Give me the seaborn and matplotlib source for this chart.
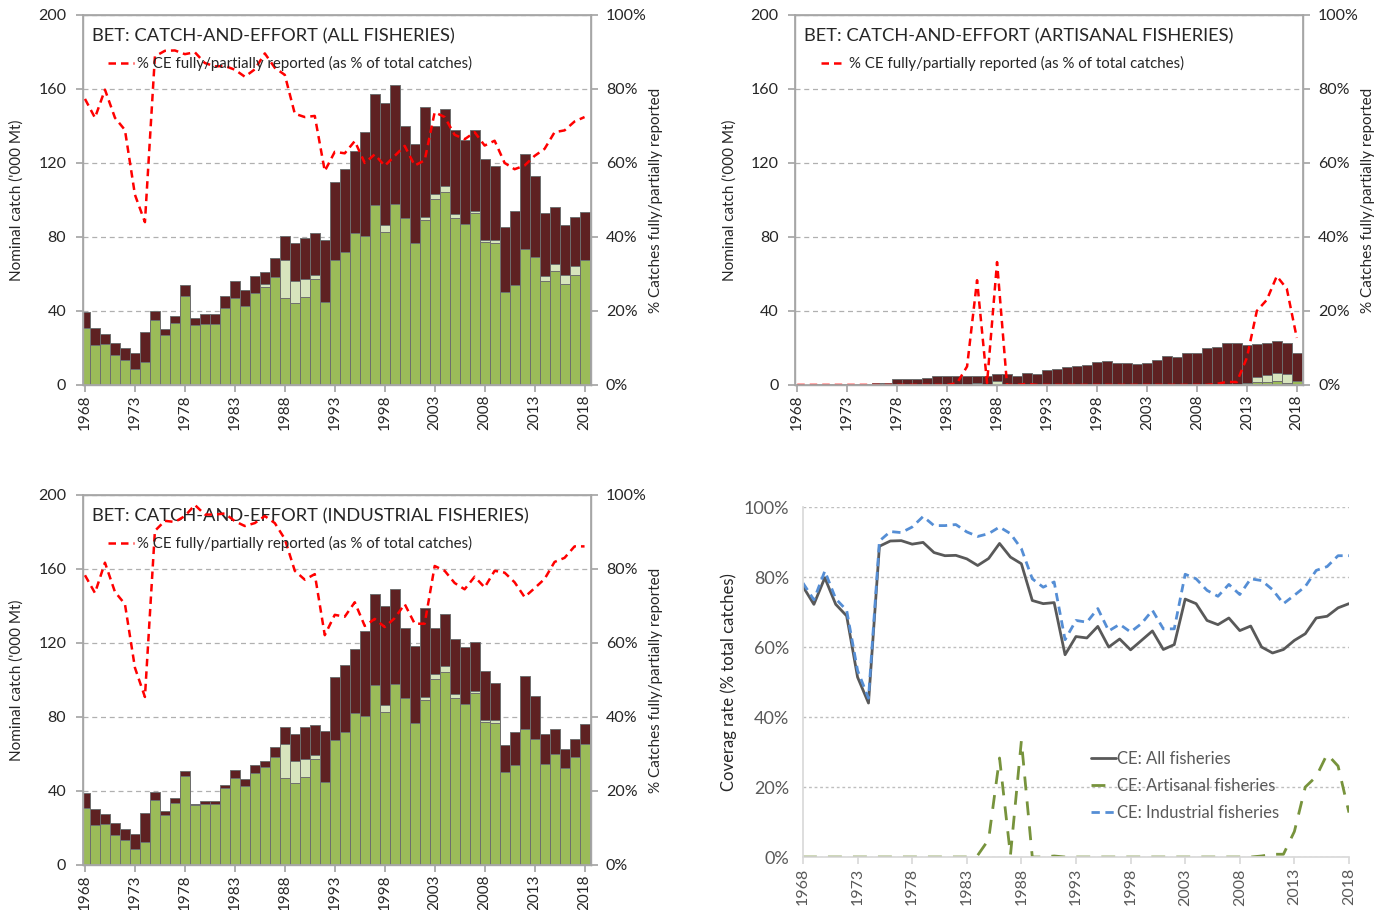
import matplotlib
matplotlib.use("Agg")
import matplotlib.pyplot as plt
from matplotlib.ticker import PercentFormatter
import numpy as np
import seaborn as sns

years = np.arange(1968, 2019)

# all fisheries, nominal catch ('000 t)
all_total = [39.3, 30.6, 27.7, 22.9, 19.8, 17.5, 28.8, 40.0, 30.1, 37.1,
             54.1, 36.0, 38.2, 38.6, 48.3, 56.2, 51.2, 58.7, 60.9, 68.6,
             80.7, 76.8, 79.3, 82.2, 78.2, 109.5, 116.8, 126.5, 136.6, 157.1,
             152.4, 162.2, 140.2, 130.4, 150.3, 140.2, 149.2, 137.7, 132.6, 138.0,
             122.2, 118.6, 85.4, 94.1, 124.7, 113.2, 92.8, 96.2, 86.5, 90.8,
             93.4]
all_full = [30.6, 21.6, 22.3, 16.2, 13.3, 8.6, 12.3, 35.3, 27.0, 33.5,
            48.3, 32.4, 33.2, 33.2, 41.4, 47.2, 42.5, 49.7, 53.2, 58.6,
            47.2, 44.3, 47.6, 57.1, 45.0, 67.7, 72.1, 82.2, 80.4, 97.3,
            82.9, 97.7, 90.3, 76.9, 89.0, 100.4, 104.5, 90.3, 87.0, 93.0,
            77.1, 76.8, 50.1, 54.1, 73.3, 69.4, 56.2, 61.8, 54.6, 59.6,
            67.4]
all_part = [0, 0, 0, 0, 0, 0, 0, 0, 0, 0,
            0, 0, 0, 0, 0, 0, 0, 0, 1.3, 0,
            20.2, 11.7, 9.5, 2.2, 0, 0, 0, 0, 0, 0,
            3.6, 0, 0, 0, 1.8, 2.7, 3.1, 2.3, 0, 0.9,
            1.5, 1.4, 0, 0, 0, 0, 2.9, 3.6, 4.7, 4.7,
            0]

# artisanal fisheries
art_total = [0.2, 0.2, 0.3, 0.4, 0.4, 0.5, 0.5, 0.6, 0.8, 0.8,
             3.4, 3.0, 3.4, 3.9, 5.0, 4.8, 5.0, 4.8, 4.6, 4.8,
             5.9, 6.1, 5.0, 6.3, 5.7, 7.9, 8.8, 9.8, 10.4, 10.7,
             12.3, 12.9, 12.0, 12.0, 11.4, 12.0, 13.4, 15.7, 15.0, 17.3,
             17.3, 20.0, 20.5, 22.5, 22.5, 21.8, 22.0, 22.7, 23.6, 22.5,
             17.3]
art_full = [0, 0, 0, 0, 0, 0, 0, 0, 0, 0,
            0, 0, 0, 0, 0, 0, 0, 0, 0, 0,
            0, 0, 0, 0, 0, 0, 0, 0, 0, 0,
            0, 0, 0, 0, 0, 0, 0, 0, 0, 0,
            0, 0, 0, 0, 0, 1.2, 1.5, 1.8, 2.0, 1.2,
            2.0]
art_part = [0, 0, 0, 0, 0, 0, 0, 0, 0, 0,
            0, 0, 0, 0, 0, 0, 0, 0, 1.3, 0,
            1.9, 0, 0, 0, 0, 0, 0, 0, 0, 0,
            0, 0, 0, 0, 0, 0, 0, 0, 0, 0,
            0, 0, 0, 0, 0, 0, 2.9, 3.6, 4.7, 4.7,
            0]

# % of catch with CE fully/partially reported
pct_all = [77.3, 72.2, 79.8, 72.2, 68.9, 51.4, 44.0, 88.8, 90.3, 90.4,
           89.4, 89.9, 87.0, 86.1, 86.2, 85.2, 83.3, 85.3, 89.6, 85.7,
           83.8, 73.3, 72.4, 72.7, 57.8, 63.0, 62.6, 65.9, 60.0, 62.3,
           59.2, 61.9, 64.6, 59.3, 60.7, 73.7, 72.4, 67.6, 66.4, 68.3,
           64.7, 66.0, 60.0, 58.3, 59.3, 61.9, 63.8, 68.3, 68.8, 71.2,
           72.4]
pct_ind = [78.3, 73.5, 81.7, 73.8, 70.5, 53.3, 45.4, 90.3, 93.0, 92.7,
           94.3, 97.3, 94.7, 94.7, 95.0, 92.9, 91.6, 92.4, 94.3, 92.4,
           88.1, 79.5, 77.1, 78.6, 62.1, 67.6, 67.1, 71.0, 64.6, 66.5,
           64.3, 66.7, 70.5, 65.2, 65.2, 80.8, 79.5, 76.2, 74.5, 77.9,
           75.0, 79.5, 79.0, 76.4, 72.4, 74.8, 77.3, 81.9, 83.0, 86.1,
           86.1]
pct_art = [0, 0, 0, 0, 0, 0, 0, 0, 0, 0,
           0, 0, 0, 0, 0, 0, 0.5, 5.0, 28.3, 0.5,
           33.2, 0, 0, 0.3, 0, 0, 0, 0, 0, 0,
           0, 0, 0, 0, 0, 0, 0, 0, 0, 0,
           0, 0, 0.3, 0.8, 0.8, 7.3, 20.0, 23.0, 29.4, 26.0,
           12.7]

# industrial = all - artisanal
ind_total = np.array(all_total) - np.array(art_total)
ind_full = np.array(all_full) - np.array(art_full)
ind_part = np.array(all_part) - np.array(art_part)

DARK = "#5E2122"
GREEN = "#9BBB59"
LIGHT = "#D7E4BD"
EDGE = "#6E6E6E"
AXC = "#A6A6A6"

sns.set_theme(style="white")
plt.rcParams["font.family"] = ["Lato", "DejaVu Sans"]

fig = plt.figure(figsize=(13.83, 9.10), dpi=100)


def bar_panel(rect, total, full, part, pct, title):
    ax = fig.add_axes(rect)
    total = np.asarray(total)
    full = np.asarray(full)
    part = np.asarray(part)
    kw = dict(native_scale=True, width=1.0, edgecolor=EDGE, linewidth=0.7,
              saturation=1, errorbar=None, ax=ax)
    sns.barplot(x=years, y=total, color=DARK, **kw)
    sns.barplot(x=years, y=full + part, color=LIGHT, **kw)
    sns.barplot(x=years, y=full, color=GREEN, **kw)
    ax.set_xlim(1967.8, 2018.6)
    ax.set_ylim(0, 200)
    ax.set_yticks([0, 40, 80, 120, 160, 200])
    ax.set_xticks(years[::5])
    ax.set_xticklabels([str(y) for y in years[::5]], rotation=90, fontsize=11)
    ax.tick_params(axis="y", labelsize=11.5, length=5, color=AXC, pad=7)
    ax.tick_params(axis="x", length=5, color=AXC, direction="out", bottom=True, pad=2)
    ax.yaxis.grid(True, ls=(0, (4, 3)), color="#B0B0B0", lw=0.9)
    ax.set_axisbelow(True)
    for s in ax.spines.values():
        s.set_color(AXC)
        s.set_linewidth(1.0)
    ax.set_ylabel("Nominal catch ('000 Mt)", fontsize=11)
    ax.yaxis.set_label_coords(-0.116, 0.5)
    ax.set_xlabel("")
    ax.text(0.018, 0.942, title, transform=ax.transAxes, fontsize=13.2,
            va="center", ha="left")

    ax2 = ax.twinx()
    sns.lineplot(x=years, y=pct, ax=ax2, color="#FF0000", lw=1.8,
                 linestyle=(0, (3, 2)),
                 label="% CE fully/partially reported (as % of total catches)")
    ax2.set_ylim(0, 100)
    ax2.set_yticks([0, 20, 40, 60, 80, 100])
    ax2.yaxis.set_major_formatter(PercentFormatter(decimals=0))
    ax2.tick_params(axis="y", labelsize=11.5, length=5, color=AXC, pad=6)
    for s in ax2.spines.values():
        s.set_color(AXC)
    ax2.set_ylabel("% Catches fully/partially reported", fontsize=11)
    ax2.yaxis.set_label_coords(1.115, 0.5)
    ax2.legend(loc="center left", bbox_to_anchor=(0.05, 0.868), frameon=False,
               fontsize=10.8, handlelength=1.7, handletextpad=0.2,
               borderaxespad=0, borderpad=0)
    return ax


bar_panel([0.060, 0.577, 0.367, 0.4066], all_total, all_full, all_part, pct_all,
          "BET: CATCH-AND-EFFORT (ALL FISHERIES)")
bar_panel([0.575, 0.577, 0.367, 0.4066], art_total, art_full, art_part, pct_art,
          "BET: CATCH-AND-EFFORT (ARTISANAL FISHERIES)")
bar_panel([0.060, 0.0495, 0.367, 0.4066], ind_total, ind_full, ind_part, pct_ind,
          "BET: CATCH-AND-EFFORT (INDUSTRIAL FISHERIES)")

# coverage comparison
ax4 = fig.add_axes([0.5806, 0.0582, 0.3948, 0.3846])
sns.lineplot(x=years, y=pct_all, ax=ax4, color="#595959", lw=2.0,
             label="CE: All fisheries")
sns.lineplot(x=years, y=pct_art, ax=ax4, color="#77933C", lw=2.0,
             linestyle=(0, (5, 4)), label="CE: Artisanal fisheries")
sns.lineplot(x=years, y=pct_ind, ax=ax4, color="#558ED5", lw=2.0,
             linestyle=(0, (3, 2)), label="CE: Industrial fisheries")
ax4.set_xlim(1968, 2018)
ax4.set_ylim(0, 100)
ax4.set_yticks([0, 20, 40, 60, 80, 100])
ax4.yaxis.set_major_formatter(PercentFormatter(decimals=0))
ax4.set_xticks(years[::5])
ax4.set_xticklabels([str(y) for y in years[::5]], rotation=90, fontsize=11.5,
                    color="#595959")
ax4.tick_params(axis="y", labelsize=13, labelcolor="#595959", length=0, pad=10)
ax4.tick_params(axis="x", length=5, color="#D9D9D9", bottom=True, pad=3)
ax4.yaxis.grid(True, ls=(0, (2, 2)), color="#BFBFBF", lw=1.0)
ax4.set_axisbelow(True)
for side in ["top", "right"]:
    ax4.spines[side].set_visible(False)
ax4.spines["left"].set_color("#D9D9D9")
ax4.spines["bottom"].set_color("#D9D9D9")
ax4.set_ylabel("Coverag rate (% total catches)", fontsize=12)
ax4.yaxis.set_label_coords(-0.121, 0.5)
ax4.legend(loc="center left", bbox_to_anchor=(0.527, 0.203), frameon=False,
           fontsize=12, handlelength=1.5, handletextpad=0.1,
           labelspacing=0.65, borderaxespad=0, borderpad=0,
           labelcolor="#595959")

fig.savefig("out.png", dpi=100)
